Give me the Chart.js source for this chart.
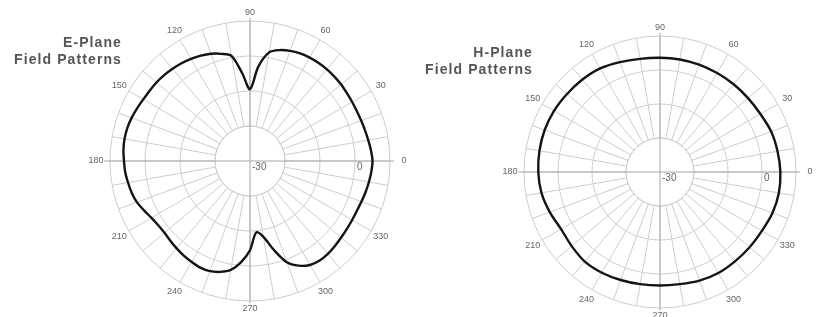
<!DOCTYPE html>
<html>
<head>
<meta charset="utf-8">
<script src="https://cdn.jsdelivr.net/npm/chart.js@4.4.1/dist/chart.umd.min.js"></script>
<style>
  body { margin: 0; background: #fff; }
  .panel { position: absolute; top: 0; width: 411px; height: 317px; }
  .panel canvas { position: absolute; left: 0; top: 0; }
  .title {
    position: absolute;
    text-align: right;
    font: bold 14px "Liberation Sans", Arial, sans-serif;
    letter-spacing: 1.1px;
    line-height: 17px;
    color: #555;
  }
</style>
</head>
<body>
<div class="panel" style="left:0">
  <canvas id="e-plane" width="411" height="317"></canvas>
  <div class="title" style="right:289px; top:34px">E-Plane<br>Field Patterns</div>
</div>
<div class="panel" style="left:411px">
  <canvas id="h-plane" width="411" height="317"></canvas>
  <div class="title" style="right:289px; top:44px">H-Plane<br>Field Patterns</div>
</div>
<script>
// angle labels round the rim, degrees
const angleTicks = [0, 30, 60, 90, 120, 150, 180, 210, 240, 270, 300, 330];
// radial tick labels (dB) written along the 0 degree axis
const gainTicks = [-30, 0];

// E-plane gain (dB), one value every 5 degrees starting at 0
const eStep = 5;
const eGain = [
  5.0, 4.7, 4.3, 4.0, 3.8, 3.7, 3.7, 3.8, 4.0, 4.1, 4.2, 4.2,
  4.1, 3.9, 3.5, 2.8, 1.5, -3.0, -9.5, -4.9, 0.5, 1.7, 2.6, 3.2,
  3.7, 4.1, 4.4, 4.7, 4.9, 5.0, 5.2, 5.6, 6.0, 6.3, 6.4, 6.3,
  6.0, 5.8, 5.4, 5.0, 4.4, 3.4, 2.5, 2.0, 1.9, 2.2, 2.6, 3.0,
  3.3, 3.6, 3.5, 2.8, 1.6, -1.0, -4.5, -9.5, -8.0, -3.7, 0.8, 3.0,
  4.3, 4.7, 4.6, 4.3, 4.0, 3.8, 3.7, 3.7, 3.9, 4.2, 4.5, 4.8,
];

// H-plane gain (dB), one value every 10 degrees starting at 0
const hStep = 10;
const hGain = [
  5.4, 5.1, 4.8, 4.1, 3.8, 3.7, 3.6, 3.6, 3.6, 3.6, 3.8, 4.4,
  5.2, 5.5, 5.7, 6.0, 6.1, 6.0, 5.8, 5.4, 4.5, 3.6, 3.9, 4.4,
  4.2, 3.8, 3.5, 3.4, 3.5, 4.0, 4.3, 4.3, 4.4, 4.6, 5.2, 5.5,
];

const gridColor = "#cdcdcd";
const axisColor = "#a8a8a8";
const textColor = "#666";

// radar indexes run clockwise from 3 o'clock, polar angles run anticlockwise
const buildLabels = (step) =>
  Array.from({ length: 360 / step }, (_, i) => (360 - i * step) % 360);

const polarFrame = {
  id: "polarFrame",
  beforeDatasetsDraw(chart) {
    const r = chart.scales.r;
    const ctx = chart.ctx;
    const cx = r.xCenter;
    const cy = r.yCenter;
    const inner = r.getDistanceFromCenterForValue(-20);
    const outer = r.getDistanceFromCenterForValue(10);
    const step = 360 / chart.data.labels.length;

    ctx.save();
    // spokes stop at the inner ring
    ctx.fillStyle = "#fff";
    ctx.beginPath();
    ctx.arc(cx, cy, inner - 0.6, 0, Math.PI * 2);
    ctx.fill();
    ctx.lineWidth = 1;
    ctx.strokeStyle = gridColor;
    ctx.beginPath();
    ctx.arc(cx, cy, inner, 0, Math.PI * 2);
    ctx.stroke();

    ctx.strokeStyle = axisColor;
    ctx.beginPath();
    ctx.moveTo(cx - outer - 6, cy);
    ctx.lineTo(cx + outer + 4, cy);
    ctx.moveTo(cx, cy - outer - 3);
    ctx.lineTo(cx, cy + outer + 2);
    ctx.stroke();

    ctx.fillStyle = textColor;
    ctx.font = '9px "Liberation Sans", Arial, sans-serif';
    ctx.textAlign = "center";
    ctx.textBaseline = "middle";
    angleTicks.forEach((a) => {
      const gap = a % 180 === 0 ? 14 : a % 90 === 0 ? 8 : 11;
      const pos = r.getPointPosition(((360 - a) % 360) / step, outer + gap);
      ctx.fillText(String(a), pos.x, pos.y);
    });

    ctx.font = '10px "Liberation Sans", Arial, sans-serif';
    ctx.textAlign = "left";
    gainTicks.forEach((v) => {
      const d = r.getDistanceFromCenterForValue(v);
      ctx.fillText(String(v), cx + d + 2, cy + 6);
    });
    ctx.restore();
  },
};

function makePattern(id, step, gain, padding) {
  const labels = buildLabels(step);
  return new Chart(document.getElementById(id), {
    type: "radar",
    data: {
      labels: labels,
      datasets: [
        {
          data: labels.map((a) => gain[a / step]),
          borderColor: "#141414",
          borderWidth: 2.4,
          fill: false,
          tension: 0.3,
          pointRadius: 0,
        },
      ],
    },
    options: {
      responsive: false,
      animation: false,
      layout: { padding: padding },
      plugins: {
        legend: { display: false },
        tooltip: { enabled: false },
      },
      scales: {
        r: {
          min: -30,
          max: 10,
          startAngle: 90,
          ticks: { display: false, stepSize: 10 },
          pointLabels: { display: false },
          grid: { circular: true, color: gridColor, lineWidth: 1 },
          angleLines: {
            lineWidth: 1,
            color: (c) => (labels[c.index] % 10 === 0 ? gridColor : "transparent"),
          },
        },
      },
    },
    plugins: [polarFrame],
  });
}

makePattern("e-plane", eStep, eGain, { left: 110, top: 21, right: 21, bottom: 16 });
makePattern("h-plane", hStep, hGain, { left: 113, top: 36, right: 26, bottom: 9 });
</script>
</body>
</html>
